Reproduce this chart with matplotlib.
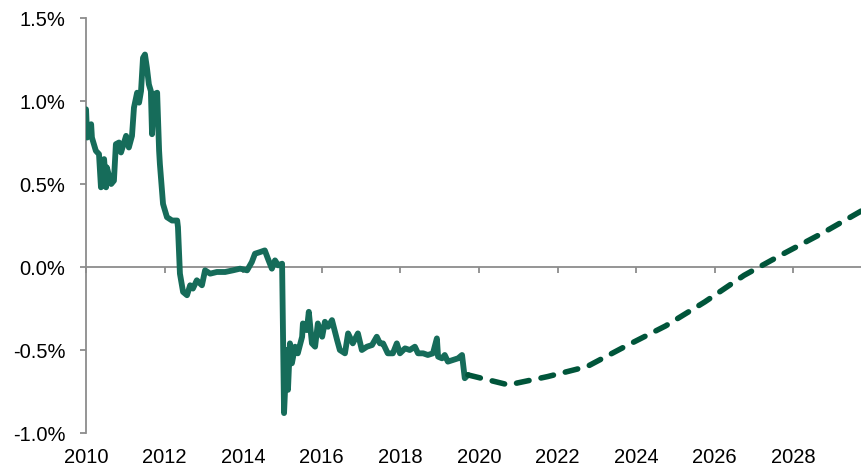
import matplotlib
matplotlib.use("Agg")
import matplotlib.pyplot as plt
import matplotlib.transforms as mtransforms
from matplotlib.ticker import FuncFormatter

plt.rcParams['font.family'] = ['Liberation Sans', 'DejaVu Sans']

# historical series (year, % value)
hist_years = [
    2010.00, 2010.03, 2010.08, 2010.13, 2010.15, 2010.25, 2010.33, 2010.38, 2010.46,
    2010.51, 2010.53, 2010.64, 2010.71, 2010.76, 2010.84, 2010.89, 2011.02, 2011.09,
    2011.17, 2011.22, 2011.30, 2011.35, 2011.40, 2011.45, 2011.50, 2011.55, 2011.60,
    2011.65, 2011.68, 2011.73, 2011.81, 2011.86, 2011.88, 2011.96, 2012.06, 2012.19,
    2012.32, 2012.34, 2012.39, 2012.47, 2012.57, 2012.65, 2012.72, 2012.82, 2012.95,
    2013.03, 2013.16, 2013.33, 2013.54, 2013.74, 2013.92, 2014.10, 2014.22, 2014.30,
    2014.43, 2014.55, 2014.63, 2014.73, 2014.81, 2014.89, 2014.99, 2015.04, 2015.11,
    2015.14, 2015.19, 2015.24, 2015.32, 2015.39, 2015.50, 2015.52, 2015.62, 2015.67,
    2015.75, 2015.83, 2015.90, 2016.01, 2016.08, 2016.16, 2016.26, 2016.39, 2016.46,
    2016.59, 2016.67, 2016.79, 2016.92, 2017.02, 2017.15, 2017.28, 2017.40, 2017.48,
    2017.56, 2017.68, 2017.81, 2017.91, 2017.99, 2018.12, 2018.24, 2018.37, 2018.45,
    2018.58, 2018.70, 2018.83, 2018.93, 2018.96, 2019.06, 2019.13, 2019.21, 2019.34,
    2019.47, 2019.57, 2019.64, 2019.72,
]
hist_values = [
    0.95, 0.78, 0.84, 0.86, 0.78, 0.70, 0.68, 0.48, 0.65,
    0.48, 0.60, 0.50, 0.52, 0.74, 0.75, 0.69, 0.79, 0.72,
    0.79, 0.96, 1.05, 0.99, 1.06, 1.26, 1.28, 1.20, 1.10,
    1.06, 0.80, 1.04, 1.05, 0.70, 0.62, 0.38, 0.30, 0.28,
    0.28, 0.24, -0.04, -0.15, -0.17, -0.11, -0.13, -0.08, -0.11,
    -0.02, -0.04, -0.03, -0.03, -0.02, -0.01, -0.02, 0.03, 0.08,
    0.09, 0.10, 0.05, -0.01, 0.04, 0.01, 0.02, -0.88, -0.50,
    -0.74, -0.46, -0.58, -0.48, -0.52, -0.42, -0.34, -0.38, -0.27,
    -0.46, -0.48, -0.34, -0.42, -0.33, -0.36, -0.32, -0.44, -0.50,
    -0.52, -0.40, -0.46, -0.40, -0.50, -0.48, -0.47, -0.42, -0.46,
    -0.46, -0.52, -0.52, -0.46, -0.52, -0.49, -0.50, -0.48, -0.52,
    -0.52, -0.53, -0.52, -0.43, -0.54, -0.55, -0.53, -0.57, -0.56,
    -0.55, -0.53, -0.67, -0.65,
]

# forecast path
fc_years = [2019.72, 2020.75, 2021.75, 2022.75, 2023.75, 2024.75, 2025.75,
            2026.75, 2027.75, 2028.75, 2029.75]
fc_values = [-0.65, -0.71, -0.66, -0.60, -0.475, -0.355, -0.21,
             -0.05, 0.08, 0.205, 0.34]

year_ticks = [2010, 2012, 2014, 2016, 2018, 2020, 2022, 2024, 2026, 2028]
y_ticks = [-1.0, -0.5, 0.0, 0.5, 1.0, 1.5]

solid_color = '#166c5a'
dash_color = '#00553a'
axis_color = '#8c8c8c'

fig = plt.figure(figsize=(8.62, 4.70), dpi=100)
ax = fig.add_axes([0.0998, 0.0787, 0.9002, 0.883])

ax.plot(hist_years, hist_values, color=solid_color, lw=4.2,
        solid_joinstyle='round', solid_capstyle='round', zorder=3)
ax.plot(fc_years, fc_values, color=dash_color, lw=4.0,
        dashes=(2.3, 2.2), dash_capstyle='round', zorder=3)

ax.set_xlim(2010, 2029.75)
ax.set_ylim(-1.0, 1.5)

for s in ['top', 'right']:
    ax.spines[s].set_visible(False)
ax.spines['bottom'].set_position(('data', 0))
ax.spines['bottom'].set_color(axis_color)
ax.spines['left'].set_color(axis_color)
ax.spines['bottom'].set_linewidth(1.3)
ax.spines['left'].set_linewidth(1.3)

ax.set_yticks(y_ticks)
ax.yaxis.set_major_formatter(FuncFormatter(lambda v, p: f"{v:.1f}%"))
ax.tick_params(axis='y', length=4, width=1.3, color=axis_color,
               labelsize=14.5, pad=11, labelcolor='black')

ax.set_xticks(year_ticks)
ax.tick_params(axis='x', length=4, width=1.3, color=axis_color,
               labelbottom=False)

trans = mtransforms.blended_transform_factory(ax.transData, ax.transAxes)
for yr in year_ticks:
    ax.text(yr, -0.058, str(yr), transform=trans, ha='center', va='center',
            fontsize=14.5, color='black', clip_on=False)

fig.savefig('out.png', dpi=100)
